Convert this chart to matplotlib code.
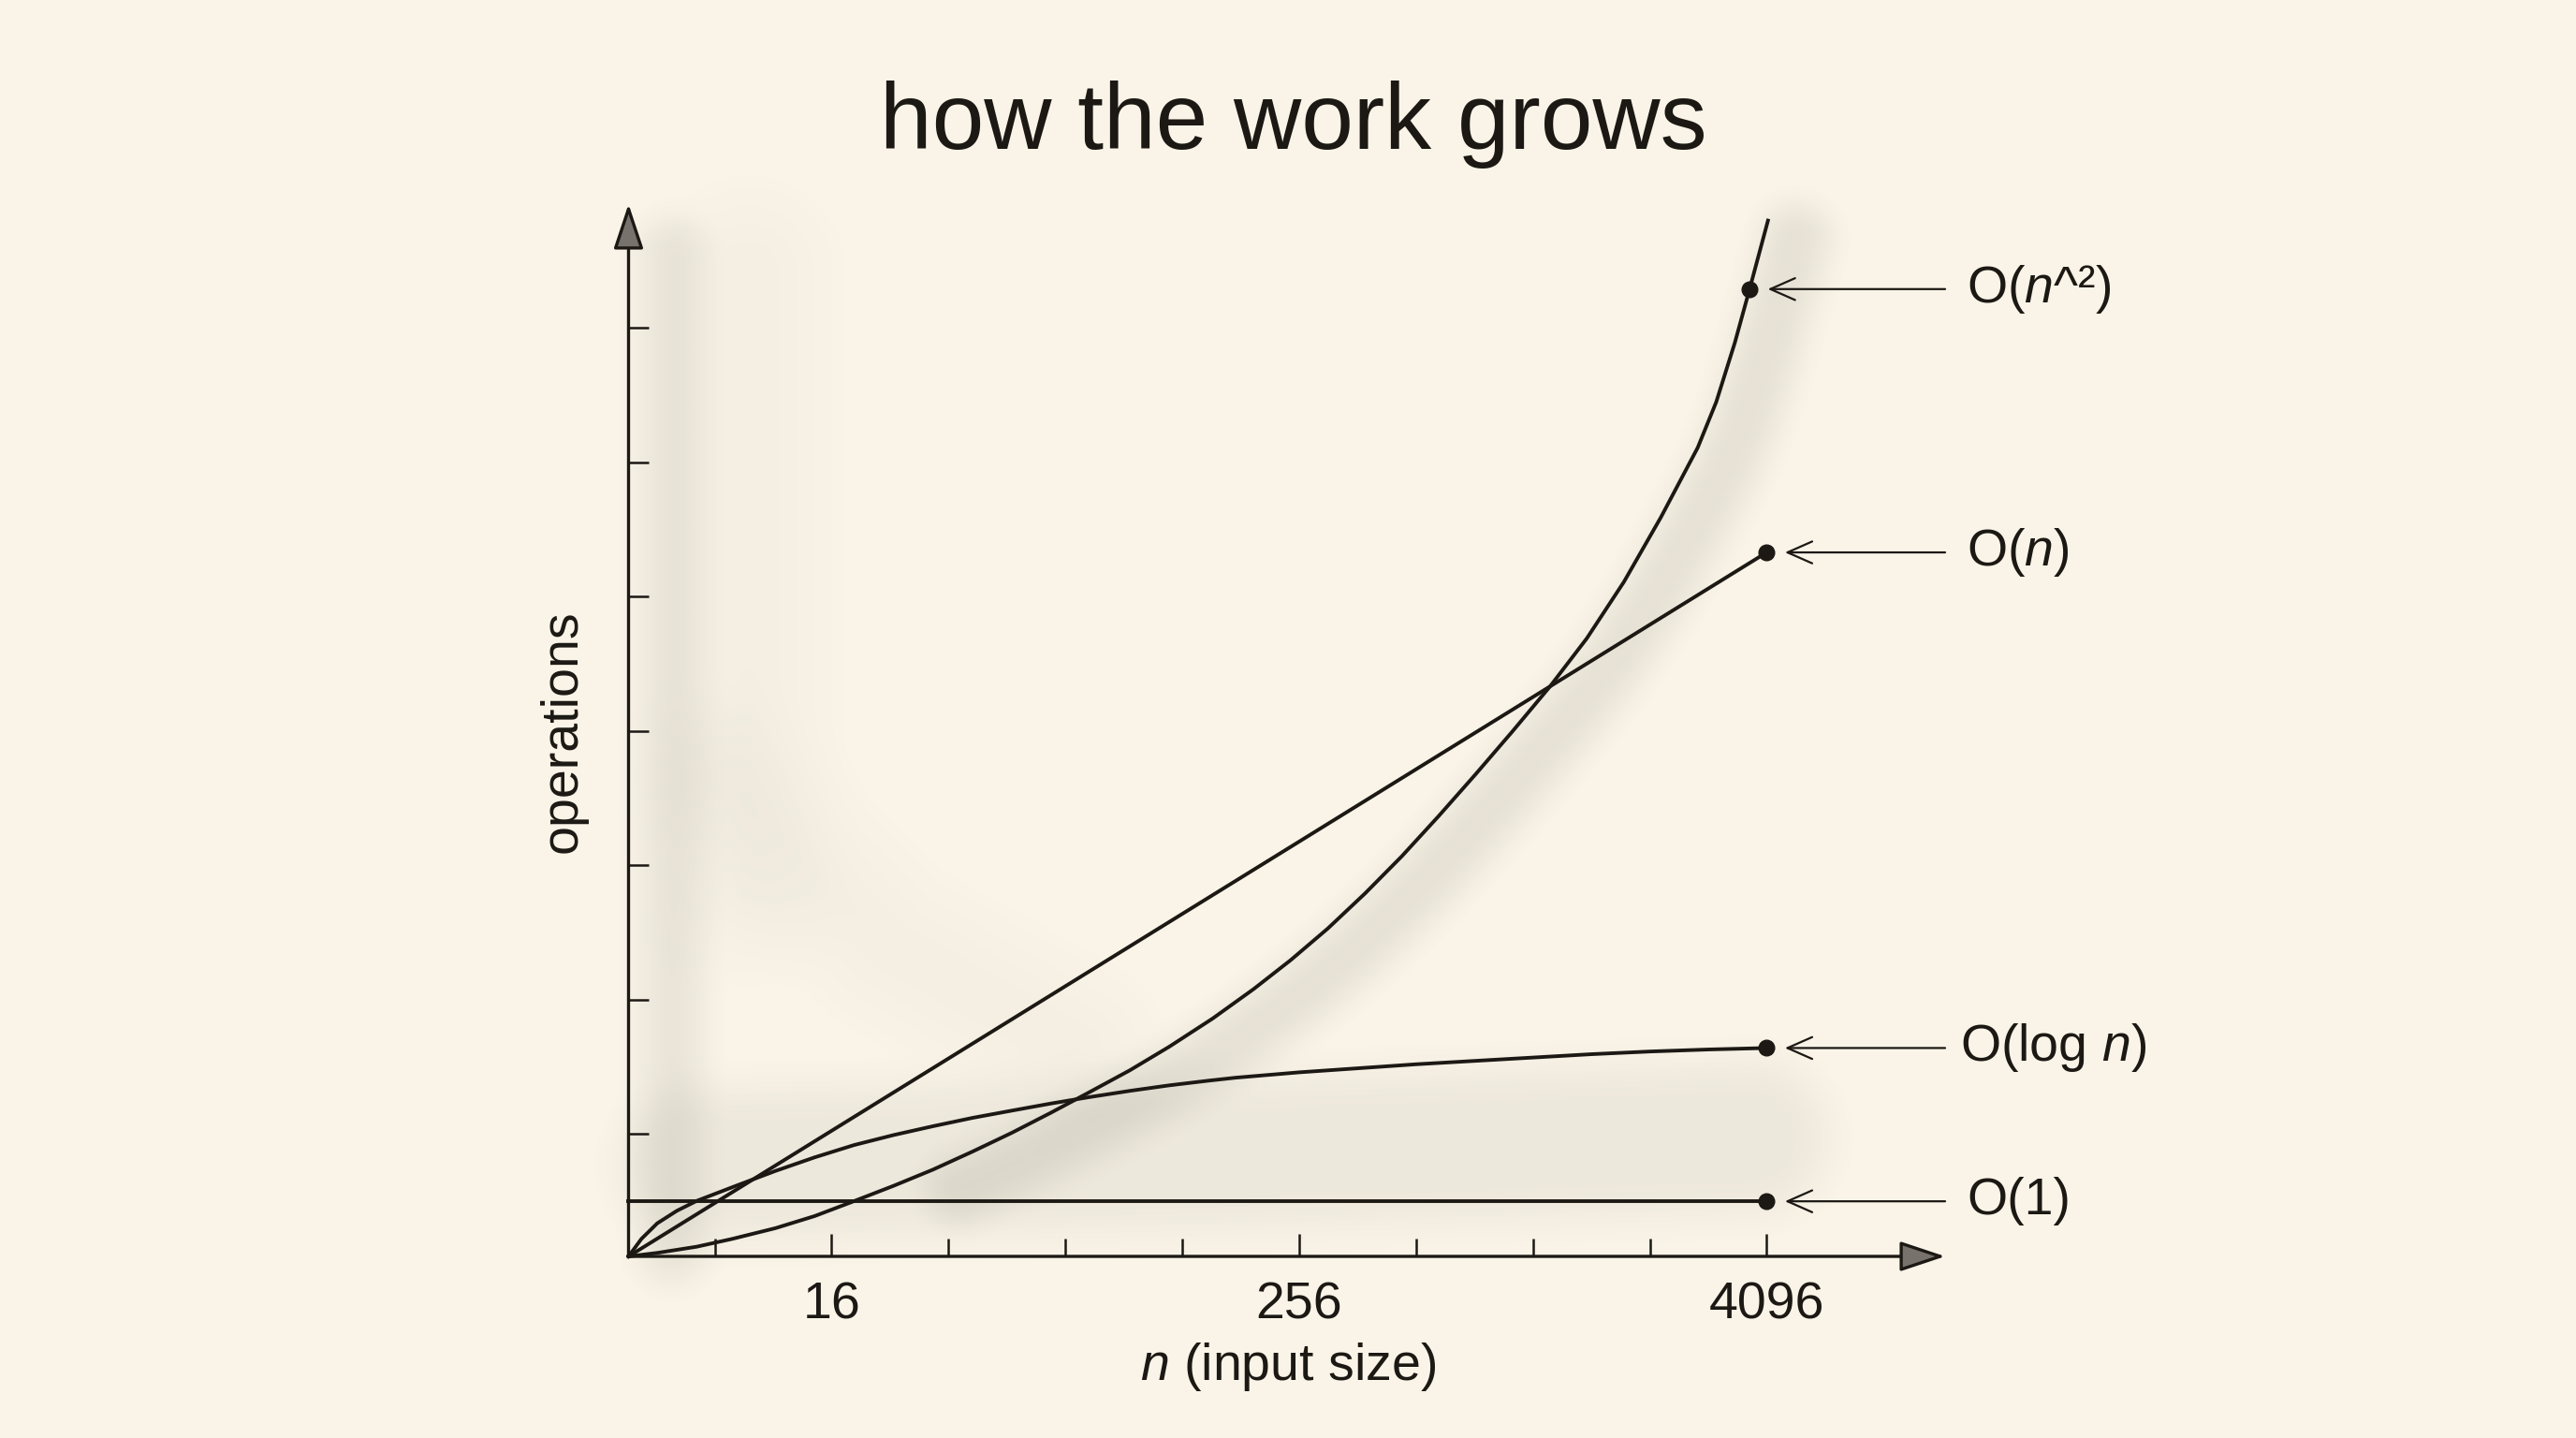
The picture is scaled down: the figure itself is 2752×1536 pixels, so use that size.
import numpy as np
import matplotlib
matplotlib.use("Agg")
import matplotlib.pyplot as plt
from matplotlib import transforms

# n on a log2 axis, operations in the chart's own (unlabelled) units
log_n   = [4.8, 5.18, 5.69, 6.39, 7.19, 9.07, 11.47, 14.47, 18.3, 23.1, 29.2, 36.9, 46.6, 58.8, 73.6,
           93.8, 118.4, 149.6, 175.5, 256, 362, 512, 724, 1024, 1448, 2048, 2896, 4096]
ops_log = [0, 0.13, 0.246, 0.339, 0.413, 0.525, 0.636, 0.737, 0.829, 0.903, 0.969, 1.031, 1.085, 1.138, 1.185,
           1.232, 1.273, 1.308, 1.33, 1.37, 1.40, 1.43, 1.455, 1.48, 1.505, 1.525, 1.54, 1.551]

sq_n   = [4.8, 5.69, 7.19, 8.87, 11.47, 14.47, 17.86, 23.1, 29.2, 36.9, 46.6, 58.8, 72.5, 93.8, 118.4, 153.2,
          195.5, 243.4, 303.3, 377.9, 470.5, 585.8, 729.6, 908.4, 1131.6, 1409.5, 1755.9, 2185.7, 2721, 3037,
          3390, 3701, 4127]
ops_sq = [0, 0.026, 0.072, 0.13, 0.21, 0.30, 0.40, 0.525, 0.646, 0.78, 0.92, 1.07, 1.21, 1.385, 1.56, 1.77,
          1.99, 2.205, 2.44, 2.70, 2.978, 3.278, 3.59, 3.91, 4.24, 4.60, 5.02, 5.50, 6.02, 6.36,
          6.80, 7.20, 7.71]

lin_n   = [4.8, 4096]
ops_lin = [0, 5.24]

const_n   = [4.8, 4096]
ops_const = [0.41, 0.41]

labels = ["O($n$^²)", "O($n$)", "O(log $n$)", "O(1)"]
label_pts = [(sq_n[-2], ops_sq[-2]), (lin_n[-1], ops_lin[-1]),
             (log_n[-1], ops_log[-1]), (const_n[-1], ops_const[-1])]
label_x = [1.0165, 1.0165, 1.0115, 1.0165]

major_ticks = [16, 256, 4096]
minor_ticks = [8, 32, 64, 128, 512, 1024, 2048]

BG = "#f9f4e7"
INK = "#1c1814"
W, H = 2752, 1536

plt.rcParams['font.family'] = ['Liberation Sans', 'DejaVu Sans']
plt.rcParams['mathtext.fontset'] = 'custom'
plt.rcParams['mathtext.rm'] = 'Liberation Sans'
plt.rcParams['mathtext.it'] = 'Liberation Sans:italic'

fig = plt.figure(figsize=(W / 100, H / 100), dpi=100)
fig.patch.set_facecolor(BG)

ax_bg = fig.add_axes([0, 0, 1, 1], zorder=0)
ax_bg.set_xlim(0, W)
ax_bg.set_ylim(H, 0)
ax_bg.axis('off')

ax = fig.add_axes([0.2440, 0.1263, 0.5111, 0.7318], zorder=1)
ax.patch.set_alpha(0)
ax.set_xscale('log', base=2)
ax.set_xlim(4.8, 11800)
ax.set_ylim(0, 7.833)
for s in ax.spines.values():
    s.set_visible(False)


# soft grey watercolour washes behind the lines
def wash(strokes):
    step = 4
    gx, gy = np.meshgrid(np.arange(0, W, step) + step / 2, np.arange(0, H, step) + step / 2)
    keep = np.ones_like(gx)
    for pts, half, soft, strength in strokes:
        pts = np.asarray(pts, float)
        d = np.full(gx.shape, 1e9)
        for (x0, y0), (x1, y1) in zip(pts[:-1], pts[1:]):
            dx, dy = x1 - x0, y1 - y0
            t = np.clip(((gx - x0) * dx + (gy - y0) * dy) / max(dx * dx + dy * dy, 1e-9), 0, 1)
            d = np.minimum(d, np.hypot(gx - (x0 + t * dx), gy - (y0 + t * dy)))
        s = np.clip((half + soft - d) / (2 * soft), 0, 1)
        s = s * s * (3 - 2 * s)
        keep *= 1 - strength * s
    rgba = np.zeros(gx.shape + (4,))
    rgba[..., :3] = np.array([110, 106, 98]) / 255
    rgba[..., 3] = 1 - keep
    ax_bg.imshow(rgba, extent=[0, W, H, 0], interpolation='bilinear', aspect='auto')


def to_px(xs, ys):
    p = ax.transData.transform(np.column_stack([xs, ys]))
    return np.column_stack([p[:, 0], H - p[:, 1]])


sq_px = to_px(sq_n, ops_sq) + [30, 20]
wash([
    ([(718, 270), (718, 1335)], 32, 32, 0.11),
    ([(800, 290), (800, 950)], 60, 70, 0.04),
    ([(770, 830), (950, 1010), (1150, 1120)], 55, 70, 0.04),
    ([(745, 1245), (1300, 1232), (1870, 1215)], 80, 40, 0.085),
    (sq_px[8:], 34, 30, 0.13),
])

# axes drawn as arrows
ax_arrow = dict(arrowstyle='-|>,head_length=1.5,head_width=0.5', lw=2.4,
                ec=INK, fc='#77726c', shrinkA=0, shrinkB=0, mutation_scale=20)
ax.annotate('', xy=(1, 0), xytext=(0, 0), xycoords='axes fraction', arrowprops=ax_arrow, annotation_clip=False)
ax.annotate('', xy=(0, 1), xytext=(0, 0), xycoords='axes fraction', arrowprops=ax_arrow, annotation_clip=False)

ax.set_xticks(major_ticks)
ax.set_xticklabels([str(t) for t in major_ticks])
ax.set_xticks(minor_ticks, minor=True)
ax.set_xticklabels([], minor=True)
ax.tick_params(axis='x', which='major', direction='in', length=17, width=1.8, color=INK,
               labelsize=40, labelcolor=INK, pad=19)
ax.tick_params(axis='x', which='minor', direction='in', length=14, width=1.8, color=INK)
ax.set_yticks(np.arange(7) + 0.91)
ax.set_yticklabels([])
ax.tick_params(axis='y', which='both', direction='in', length=15.5, width=1.8, color=INK)
ax.yaxis.set_minor_locator(matplotlib.ticker.NullLocator())

# curves
for xs, ys in [(const_n, ops_const), (log_n, ops_log), (lin_n, ops_lin), (sq_n, ops_sq)]:
    ax.plot(xs, ys, color=INK, lw=2.8, solid_joinstyle='round', clip_on=False)

# end dots + labels
blend = transforms.blended_transform_factory(ax.transAxes, ax.transData)
for (xn, yv), lab, lx in zip(label_pts, labels, label_x):
    ax.plot(xn, yv, 'o', ms=12, color=INK, clip_on=False, zorder=5)
    ax.annotate('', xy=(xn, yv), xytext=(1.0, yv), textcoords=('axes fraction', 'data'),
                arrowprops=dict(arrowstyle='->,head_length=0.95,head_width=0.42', lw=1.6, color=INK,
                                shrinkA=0, shrinkB=14, mutation_scale=20),
                annotation_clip=False)
    ax.text(lx, yv, lab, transform=blend, ha='left', va='center', fontsize=40, color=INK)

fig.text(0.502, 0.8965, "how the work grows", ha='center', va='baseline', fontsize=72, color=INK)
fig.text(602 / W, 1 - 781 / H, "operations", rotation=90, ha='center', va='center', fontsize=40, color=INK)
fig.text(1376 / W, 1 - 1460 / H, "$n$ (input size)", ha='center', va='center', fontsize=40, color=INK)

fig.savefig("out.png", dpi=100, facecolor=BG)
